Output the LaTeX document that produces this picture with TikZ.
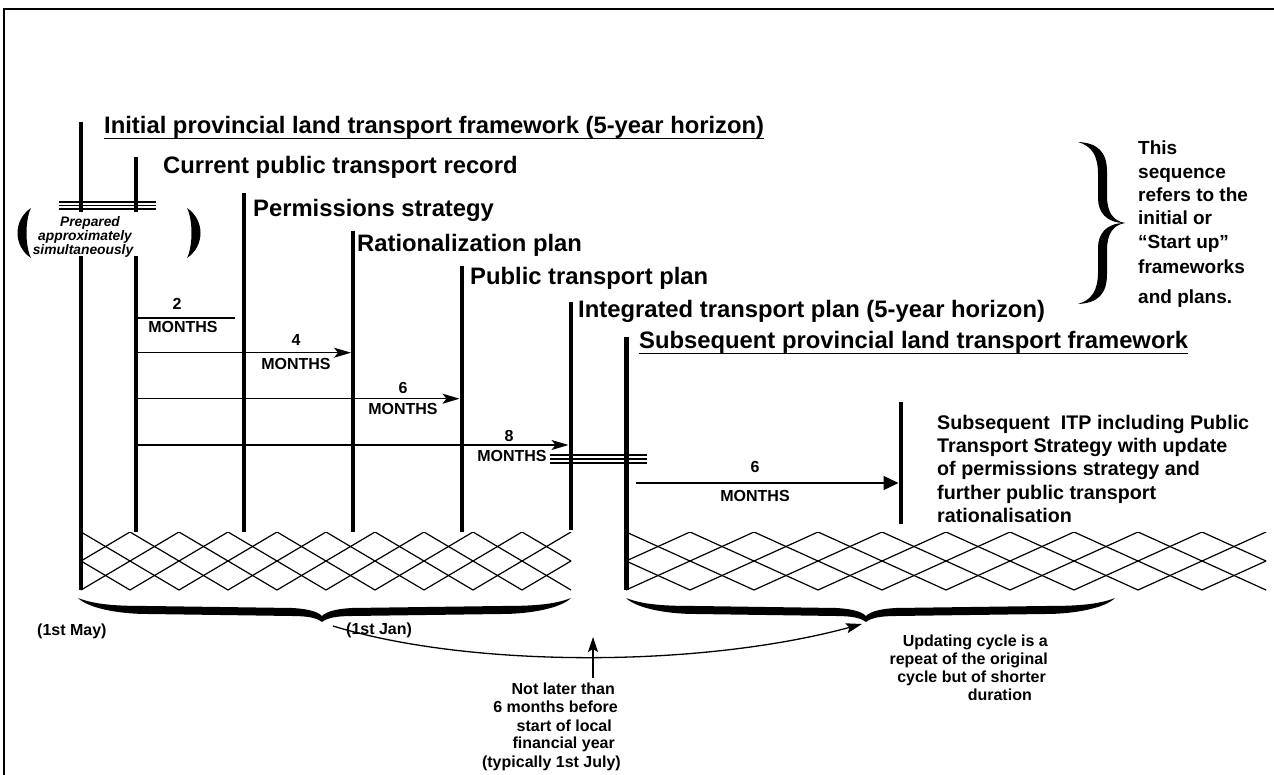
\documentclass[tikz,border=0pt]{standalone}
\usepackage{fontspec}
\setmainfont{Liberation Sans}
\usetikzlibrary{arrows.meta}
\newcommand\mybrace[4]{% x1, xtip, x2, ytop
\fill ({#1},{#4}) .. controls ({#1+18},{#4+7}) and ({#1+40},{#4+8}) .. ({#1+70},{#4+8})
 -- ({#2-30},{#4+10}) .. controls ({#2-12},{#4+11}) and ({#2-4},{#4+14}) .. ({#2},{#4+18})
 .. controls ({#2+4},{#4+14}) and ({#2+12},{#4+11}) .. ({#2+30},{#4+10})
 -- ({#3-70},{#4+8}) .. controls ({#3-40},{#4+8}) and ({#3-18},{#4+7}) .. ({#3},{#4})
 .. controls ({#3-10},{#4+10}) and ({#3-40},{#4+16}) .. ({#3-70},{#4+16})
 -- ({#2+30},{#4+18}) .. controls ({#2+14},{#4+18}) and ({#2+5},{#4+20}) .. ({#2},{#4+24})
 .. controls ({#2-5},{#4+20}) and ({#2-14},{#4+18}) .. ({#2-30},{#4+18})
 -- ({#1+70},{#4+16}) .. controls ({#1+40},{#4+16}) and ({#1+10},{#4+10}) .. ({#1},{#4}) -- cycle;}
\begin{document}
\begin{tikzpicture}[x=1pt,y=-1pt,
  vline/.style={line width=4pt},
  thin/.style={line width=1.2pt},
  hatch/.style={line width=1.2pt},
  big/.style={inner sep=0pt, anchor=base west, font=\fontsize{23.8}{28}\selectfont\bfseries},
  small/.style={inner sep=0pt, anchor=base, font=\fontsize{16}{19}\selectfont\bfseries},
  note/.style={inner sep=0pt, font=\fontsize{16}{19}\selectfont\bfseries},
  side/.style={inner sep=0pt, anchor=base west, font=\fontsize{19}{23}\selectfont\bfseries},
  itp/.style={inner sep=0pt, anchor=base west, font=\fontsize{19.7}{23}\selectfont\bfseries},
  arr/.style={line width=1.2pt, -{Stealth[length=17pt,width=10pt,inset=4pt]}},
  triarr/.style={line width=1.3pt, -{Triangle[length=15pt,width=14pt]}}
]
\useasboundingbox (0,0) rectangle (1274,775);
% frame
\draw[line width=1.5pt] (4,780) -- (4,9) -- (1280,9);

% vertical lines
\coordinate (L1a) at (81,122); \coordinate (L1b) at (81,212);
\coordinate (L1c) at (81,256); \coordinate (L1d) at (81,590);
\coordinate (L2a) at (135.5,157); \coordinate (L2b) at (135.5,212);
\coordinate (L2c) at (135.5,256); \coordinate (L2d) at (135.5,532);
\coordinate (L3a) at (244,193); \coordinate (L3d) at (244,532);
\coordinate (L4a) at (353,231); \coordinate (L4d) at (353,532);
\coordinate (L5a) at (461.5,266); \coordinate (L5d) at (461.5,532);
\coordinate (L6a) at (570.5,302); \coordinate (L6d) at (570.5,530);
\coordinate (L7a) at (626,337); \coordinate (L7d) at (626,590);
\coordinate (L8a) at (901,402); \coordinate (L8d) at (901,524);
\draw[vline] (L1a) -- (L1b) (L1c) -- (L1d);
\draw[vline] (L2a) -- (L2b) (L2c) -- (L2d);
\draw[vline] (L3a) -- (L3d);
\draw[vline] (L4a) -- (L4d);
\draw[vline] (L5a) -- (L5d);
\draw[vline] (L6a) -- (L6d);
\draw[line width=5pt] (L7a) -- (L7d);
\draw[line width=4.5pt] (L8a) -- (L8d);

% break marks (triple lines)
\coordinate (b1l) at (59,202); \coordinate (b1r) at (156,202);
\draw[thin] (b1l) -- (b1r) ([yshift=-3.5pt]b1l) -- ([yshift=-3.5pt]b1r) ([yshift=-7pt]b1l) -- ([yshift=-7pt]b1r);
\coordinate (b2l) at (550,455); \coordinate (b2r) at (647,455);
\draw[thin] (b2l) -- (b2r) ([yshift=-4pt]b2l) -- ([yshift=-4pt]b2r) ([yshift=-8pt]b2l) -- ([yshift=-8pt]b2r);

% parentheses
\fill (31,208) .. controls (13,220) and (13,246) .. (31,258) .. controls (25,246) and (25,220) .. (31,208) -- cycle;
\fill (187,208) .. controls (205,220) and (205,246) .. (187,258) .. controls (193,246) and (193,220) .. (187,208) -- cycle;
\begin{scope}[every node/.style={inner sep=0pt, anchor=base, font=\fontsize{13.8}{14}\selectfont\bfseries\itshape}]
\node (pp1) at (90,227) {Prepared};
\node (pp2) at (85,241) {approximately};
\node (pp3) at (83,255) {simultaneously};
\end{scope}

% headings
\node[big] (tinit) at (104,134) {Initial provincial land transport framework (5-year horizon)};
\draw[line width=1.6pt] ([yshift=-4.5pt]tinit.base west) -- ([yshift=-4.5pt]tinit.base east);
\node[big] (tcur) at (163,174) {Current public transport record};
\node[big] (tperm) at (253,217) {Permissions strategy};
\node[big] (trat) at (357,252) {Rationalization plan};
\node[big] (tpub) at (470,285) {Public transport plan};
\node[big] (titp) at (578,318) {Integrated transport plan (5-year horizon)};
\node[big] (tsub) at (639,349) {Subsequent provincial land transport framework};
\draw[line width=1.6pt] ([yshift=-4.5pt]tsub.base west) -- ([yshift=-4.5pt]tsub.base east);

% month intervals
\coordinate (m2s) at (137,318); \coordinate (m2e) at (235,318);
\draw[thin] (m2s) -- (m2e);
\node[small] (n2) at (177,310) {2};
\node[small] (mo2) at (183,333) {MONTHS};

\coordinate (m4s) at (137,352.7); \coordinate (m4e) at (351,352.7);
\draw[arr] (m4s) -- (m4e);
\node[small] (n4) at (296,346) {4};
\node[small] (mo4) at (296,370) {MONTHS};

\coordinate (m6s) at (137,398.7); \coordinate (m6e) at (459.5,398.7);
\draw[arr] (m6s) -- (m6e);
\node[small] (n6) at (403,393) {6};
\node[small] (mo6) at (403,414) {MONTHS};

\coordinate (m8s) at (137,445); \coordinate (m8e) at (568.5,445);
\draw[arr] (m8s) -- (m8e);
\node[small] (n8) at (509,441) {8};
\node[small] (mo8) at (512,461) {MONTHS};

\coordinate (r6s) at (636,483); \coordinate (r6e) at (898.5,483);
\draw[triarr] (r6s) -- (r6e);
\node[small] (rn6) at (755,472) {6};
\node[small] (rmo6) at (755,501) {MONTHS};

% ITP text
\node[itp] (i1) at (937,429) {Subsequent\ \ ITP including Public};
\node[itp] (i2) at (937,452) {Transport Strategy with update};
\node[itp] (i3) at (937,475) {of permissions strategy and};
\node[itp] (i4) at (937,499) {further public transport};
\node[itp] (i5) at (937,522) {rationalisation};

% big brace and side note
\fill (1078,142) .. controls (1098,143) and (1107,152) .. (1107,172) -- (1107,196) .. controls (1107,212) and (1113,221) .. (1125,223)
  .. controls (1106,223) and (1098,212) .. (1098,198) -- (1098,174) .. controls (1098,156) and (1092,146) .. (1078,142) -- cycle;
\fill (1078,304) .. controls (1098,303) and (1107,294) .. (1107,274) -- (1107,250) .. controls (1107,234) and (1113,225) .. (1125,223)
  .. controls (1106,223) and (1098,234) .. (1098,248) -- (1098,272) .. controls (1098,290) and (1092,300) .. (1078,304) -- cycle;
\node[side] (s1) at (1138,155) {This};
\node[side] (s2) at (1138,179) {sequence};
\node[side] (s3) at (1138,202) {refers to the};
\node[side] (s4) at (1138,225) {initial or};
\node[side] (s5) at (1138,249) {“Start up”};
\node[side] (s6) at (1138,274) {frameworks};
\node[side] (s7) at (1138,304) {and plans.};

% hatched bands
\begin{scope}
\clip (81,532) rectangle (571,590);
\foreach \k in {-2,...,12}{
  \draw[hatch] (81+49*\k,532) -- ++(98,58);
  \draw[hatch] (81+49*\k,532) -- ++(-98,58);
}
\end{scope}
\begin{scope}
\clip (626,532) rectangle (1266,590);
\foreach \k in {-2,...,12}{
  \draw[hatch] (626+64*\k,532) -- ++(128,58);
  \draw[hatch] (626+64*\k,532) -- ++(-128,58);
}
\end{scope}

% braces under bands
\mybrace{78}{322}{571}{598}
\mybrace{626}{866}{1115}{598}

% bottom labels
\node[note, anchor=base west] (may) at (37,635) {(1st May)};
\node[note, anchor=base west] (jan) at (346,634) {(1st Jan)};

\coordinate (cs) at (333,626); \coordinate (ce) at (862,624);
\draw[line width=1.3pt, -{Stealth[length=16pt,width=10pt,inset=3pt]}] (cs) .. controls (470,668) and (700,668) .. (ce);

\coordinate (ua) at (593,678); \coordinate (ub) at (593,637);
\draw[line width=1.3pt, -{Stealth[length=15pt,width=10pt,inset=3pt]}] (ua) -- (ub);

\node[note, anchor=base east] (nl1) at (615,694) {Not later than};
\node[note, anchor=base east] (nl2) at (618,712.5) {6 months before};
\node[note, anchor=base east] (nl3) at (612,731) {start of local};
\node[note, anchor=base east] (nl4) at (615,748.5) {financial year};
\node[note, anchor=base east] (nl5) at (621,767.5) {(typically 1st July)};

\node[note, anchor=base east] (u1) at (1048,646) {Updating cycle is a};
\node[note, anchor=base east] (u2) at (1048,664) {repeat of the original};
\node[note, anchor=base east] (u3) at (1046,682) {cycle but of shorter};
\node[note, anchor=base east] (u4) at (1032,700) {duration};
\end{tikzpicture}
\end{document}
